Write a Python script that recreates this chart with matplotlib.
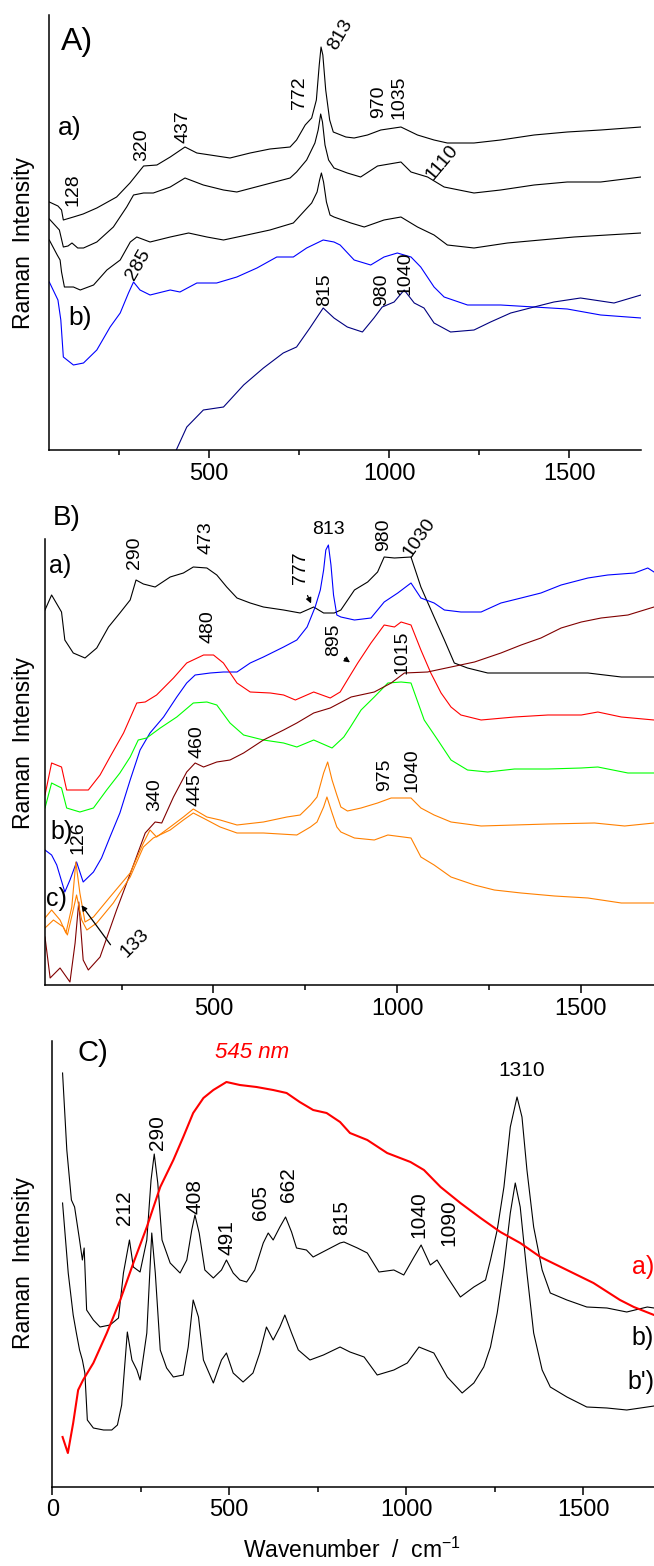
import numpy as np
import matplotlib.pyplot as plt

plt.rcParams['font.family'] = ['Liberation Sans', 'DejaVu Sans']
plt.rcParams['mathtext.fontset'] = 'custom'
plt.rcParams['mathtext.rm'] = 'Liberation Sans'

# ---------------- panel A ----------------
a1_w = [56, 80, 90, 95, 123, 150, 188, 243, 280, 318, 355, 392, 433, 466, 503, 558, 614, 669, 725, 743, 767, 785,
        798, 806, 811, 816, 824, 835, 845, 880, 903, 940, 977, 1033, 1079, 1125, 1162, 1236, 1310, 1403, 1495, 1588, 1700]
a1_i = [248, 244, 240, 230, 233, 236, 242, 253, 267, 284, 285, 293, 303, 297, 295, 292, 297, 301, 303, 310, 325, 332,
        350, 385, 403, 395, 360, 330, 318, 313, 312, 315, 320, 323, 315, 310, 307, 307, 310, 315, 318, 320, 323]

a2_w = [56, 84, 95, 108, 119, 135, 151, 188, 234, 271, 290, 318, 345, 392, 433, 484, 540, 577, 651, 725, 743, 771,
        794, 803, 810, 815, 822, 832, 847, 884, 921, 968, 1033, 1061, 1107, 1153, 1236, 1310, 1403, 1495, 1588, 1700]
a2_i = [231, 220, 203, 204, 207, 202, 202, 208, 223, 243, 255, 257, 257, 263, 272, 265, 260, 258, 265, 272, 278, 290,
        307, 320, 336, 328, 305, 290, 282, 277, 273, 284, 288, 278, 273, 263, 257, 260, 265, 268, 268, 273]

a3_w = [56, 78, 86, 90, 98, 123, 142, 179, 216, 253, 281, 299, 336, 392, 443, 494, 540, 605, 669, 734, 762, 785,
        800, 807, 812, 818, 826, 836, 847, 894, 931, 986, 1033, 1079, 1125, 1162, 1236, 1329, 1421, 1514, 1606, 1700]
a3_i = [210, 195, 190, 178, 163, 163, 160, 165, 180, 190, 208, 213, 208, 213, 217, 213, 210, 215, 220, 227, 238, 247,
        258, 270, 277, 268, 248, 235, 233, 227, 223, 230, 233, 223, 215, 205, 202, 207, 210, 213, 215, 217]

ab_w = [56, 80, 88, 95, 123, 151, 188, 225, 253, 276, 290, 308, 336, 392, 419, 466, 521, 577, 633, 688, 734, 771,
        817, 847, 864, 903, 949, 986, 1023, 1061, 1088, 1125, 1153, 1218, 1310, 1403, 1495, 1588, 1700]
ab_i = [168, 150, 130, 93, 85, 87, 100, 123, 137, 157, 168, 160, 155, 160, 158, 167, 167, 173, 182, 193, 193, 202,
        210, 208, 205, 190, 185, 193, 197, 193, 183, 163, 153, 145, 145, 143, 141, 135, 132]

an_w = [405, 438, 484, 540, 596, 651, 706, 743, 780, 817, 847, 884, 926, 958, 981, 1014, 1042, 1070, 1097, 1125,
        1171, 1236, 1282, 1338, 1403, 1458, 1532, 1625, 1700]
an_i = [-3, 23, 40, 43, 65, 82, 97, 103, 122, 142, 132, 123, 118, 132, 143, 148, 160, 147, 142, 127,
        118, 120, 128, 137, 143, 148, 152, 147, 155]

# ---------------- panel B ----------------
ba_w = [41, 59, 86, 95, 118, 150, 182, 214, 245, 273, 289, 309, 341, 382, 418, 445, 482, 509, 536, 564, 600, 636,
        691, 736, 773, 800, 829, 847, 884, 920, 947, 965, 993, 1038, 1065, 1101, 1129, 1156, 1192, 1247, 1338, 1429,
        1520, 1611, 1700]
ba_i = [375, 390, 373, 345, 332, 327, 337, 358, 372, 385, 405, 401, 398, 408, 412, 418, 417, 410, 398, 387, 382, 378,
        375, 372, 378, 372, 372, 375, 395, 403, 413, 428, 427, 428, 398, 368, 345, 322, 317, 312, 312, 312,
        312, 308, 308]

bb_w = [41, 59, 73, 95, 109, 127, 145, 173, 195, 218, 245, 273, 300, 327, 364, 400, 427, 450, 491, 527, 564, 600,
        636, 691, 727, 755, 777, 791, 800, 806, 813, 820, 827, 836, 847, 884, 929, 965, 1002, 1038, 1065, 1101, 1129,
        1174, 1229, 1283, 1338, 1392, 1447, 1520, 1574, 1647, 1683, 1700]
bb_i = [135, 130, 120, 93, 105, 123, 103, 113, 127, 148, 172, 205, 235, 252, 268, 288, 302, 310, 312, 313, 313, 322,
        328, 338, 345, 358, 378, 395, 415, 435, 440, 420, 390, 370, 368, 365, 367, 383, 392, 402, 387, 382, 375,
        373, 373, 382, 387, 392, 400, 407, 410, 412, 417, 413]

br_w = [41, 59, 86, 100, 127, 159, 191, 218, 255, 291, 314, 345, 391, 427, 473, 500, 527, 564, 600, 655, 691, 723,
        773, 818, 845, 868, 893, 929, 965, 993, 1011, 1038, 1065, 1092, 1120, 1147, 1174, 1229, 1320, 1411, 1502,
        1547, 1611, 1700]
br_i = [190, 222, 218, 195, 195, 195, 210, 228, 252, 282, 283, 290, 307, 322, 330, 330, 322, 302, 293, 292, 290, 285,
        293, 287, 293, 307, 322, 342, 360, 358, 363, 360, 335, 312, 292, 278, 270, 265, 268, 270, 270,
        273, 268, 265]

bg_w = [41, 59, 86, 100, 136, 173, 209, 245, 273, 295, 318, 355, 400, 445, 482, 509, 545, 582, 636, 691, 727, 773,
        823, 855, 873, 902, 938, 975, 1011, 1038, 1074, 1111, 1147, 1192, 1247, 1320, 1411, 1502, 1547, 1629, 1700]
bg_i = [177, 202, 197, 177, 173, 177, 195, 212, 228, 245, 247, 257, 268, 282, 283, 280, 262, 250, 245, 242, 238, 245,
        237, 248, 258, 275, 288, 302, 303, 302, 265, 245, 225, 215, 213, 216, 216, 217, 218, 212, 212]

bm_w = [41, 55, 82, 109, 123, 133, 145, 159, 191, 236, 282, 314, 341, 359, 391, 427, 450, 473, 509, 545, 582, 636,
        691, 727, 773, 818, 875, 938, 984, 1020, 1083, 1147, 1211, 1283, 1338, 1392, 1447, 1502, 1556, 1629, 1700]
bm_i = [48, 7, 17, 3, 42, 83, 25, 15, 28, 75, 120, 152, 163, 162, 188, 213, 222, 218, 223, 225, 232, 245,
        255, 262, 272, 277, 288, 293, 302, 312, 313, 318, 323, 332, 340, 347, 357, 363, 367, 370, 378]

bo1_w = [41, 59, 82, 98, 114, 125, 136, 150, 173, 218, 273, 309, 327, 345, 382, 418, 445, 482, 518, 564, 636, 700,
         736, 764, 782, 800, 811, 823, 836, 847, 865, 902, 947, 984, 1038, 1065, 1101, 1147, 1229, 1320, 1411, 1538,
         1620, 1700]
bo1_i = [67, 75, 65, 52, 78, 123, 92, 63, 68, 88, 112, 142, 155, 148, 158, 168, 176, 168, 165, 160, 163, 168,
         170, 180, 188, 212, 223, 205, 190, 178, 174, 177, 182, 187, 187, 177, 170, 163, 159, 160, 161, 162,
         159, 162]

bo2_w = [41, 64, 91, 102, 116, 127, 141, 155, 182, 227, 273, 309, 336, 382, 418, 445, 482, 518, 564, 636, 727, 764,
         782, 800, 809, 823, 836, 847, 884, 938, 975, 1038, 1065, 1101, 1147, 1211, 1265, 1338, 1429, 1520, 1611, 1700]
bo2_i = [57, 65, 58, 50, 72, 90, 65, 55, 62, 82, 108, 138, 147, 155, 165, 172, 165, 158, 152, 152, 150, 158,
         163, 178, 188, 172, 158, 153, 147, 145, 150, 147, 128, 120, 108, 100, 95, 92, 89, 87, 82, 82]

# ---------------- panel C ----------------
cb_w = [29, 41, 54, 63, 77, 85, 90, 97, 116, 135, 163, 187, 201, 218, 229, 248, 267, 279, 288, 298, 310, 333, 361,
        380, 394, 403, 415, 431, 455, 478, 492, 511, 530, 549, 572, 596, 610, 624, 643, 659, 676, 690, 718, 737, 775,
        813, 824, 862, 890, 923, 965, 993, 1022, 1042, 1068, 1087, 1116, 1153, 1191, 1224, 1238, 1257, 1276, 1294,
        1313, 1327, 1341, 1360, 1384, 1407, 1454, 1510, 1567, 1623, 1681, 1700]
cb_i = [414, 337, 287, 280, 247, 227, 239, 177, 167, 160, 162, 169, 214, 247, 220, 215, 247, 307, 333, 304, 247, 224,
        214, 227, 257, 272, 254, 217, 209, 217, 227, 214, 207, 205, 217, 244, 254, 247, 260, 270, 255, 239, 237, 230,
        237, 244, 245, 239, 234, 215, 217, 212, 230, 242, 222, 227, 210, 190, 200, 207, 227, 257, 300, 360, 390, 370,
        317, 260, 217, 194, 187, 180, 179, 175, 180, 179]

cb2_w = [29, 45, 59, 68, 77, 85, 92, 99, 116, 145, 168, 184, 196, 212, 225, 239, 248, 267, 281, 291, 305, 323, 342,
         370, 384, 398, 413, 427, 455, 478, 492, 511, 539, 567, 586, 605, 624, 643, 657, 676, 695, 728, 766, 813,
         841, 881, 918, 965, 1003, 1036, 1078, 1116, 1158, 1191, 1219, 1238, 1257, 1276, 1294, 1308, 1322, 1341,
         1360, 1384, 1407, 1454, 1510, 1567, 1623, 1681, 1700]
cb2_i = [284, 214, 172, 154, 137, 127, 114, 67, 59, 57, 57, 62, 82, 155, 127, 117, 107, 154, 254, 214, 137, 119, 110,
         112, 140, 187, 170, 127, 104, 127, 134, 114, 105, 114, 134, 160, 147, 160, 172, 154, 137, 127, 132, 140,
         135, 130, 112, 117, 124, 140, 134, 110, 94, 104, 120, 140, 174, 220, 274, 304, 280, 214,
         154, 117, 100, 90, 80, 79, 77, 80, 81]

cr_w = [29, 44, 59, 73, 87, 116, 154, 192, 229, 267, 305, 342, 370, 398, 427, 455, 492, 530, 577, 624, 662, 699,
        737, 775, 813, 841, 890, 946, 1012, 1050, 1097, 1153, 1210, 1266, 1322, 1379, 1454, 1529, 1604, 1643, 1700]
cr_i = [50, 34, 64, 97, 107, 124, 154, 187, 224, 260, 300, 327, 350, 374, 389, 397, 405, 402, 400, 397, 394, 385,
        377, 374, 365, 354, 347, 334, 325, 317, 300, 284, 269, 255, 244, 230, 217, 204, 187, 180, 172]

# peak labels: (text, wavenumber, intensity, rotation)
labels_a = [("813", 864, 415, 60), ("772", 750, 357, 90), ("970", 972, 348, 90), ("1035", 1028, 353, 90),
            ("437", 428, 323, 90), ("320", 314, 305, 90), ("128", 122, 260, 90), ("1110", 1147, 287, 50),
            ("285", 303, 185, 60), ("815", 822, 160, 90), ("980", 978, 160, 90), ("1040", 1044, 177, 90)]
labels_b = [("290", 286, 432, 90), ("473", 480, 447, 90), ("813", 813, 455, 0), ("777", 736, 417, 90),
            ("980", 963, 450, 90), ("1030", 1061, 447, 55), ("480", 485, 358, 90), ("895", 826, 345, 90),
            ("1015", 1014, 333, 90), ("460", 455, 243, 90), ("445", 450, 195, 90), ("340", 341, 190, 90),
            ("975", 965, 210, 90), ("1040", 1042, 215, 90), ("126", 130, 147, 90), ("133", 286, 42, 45)]
labels_c = [("212", 205, 279, 90), ("290", 296, 354, 90), ("408", 403, 290, 90), ("491", 494, 249, 90),
            ("605", 587, 284, 90), ("662", 666, 302, 90), ("815", 818, 269, 90), ("1040", 1036, 272, 90),
            ("1090", 1121, 264, 90), ("1310", 1327, 417, 0)]

W, H = 654, 1566
fig = plt.figure(figsize=(W / 100, H / 100), dpi=100)


def box(left, top, right, bottom):
	return [left / W, 1 - bottom / H, (right - left) / W, (bottom - top) / H]


def style_axis(ax, xmin, ymax, major):
	ax.set_xlim(xmin, 1700)
	ax.set_ylim(0, ymax)
	for s in ["top", "right"]:
		ax.spines[s].set_visible(False)
	for s in ["left", "bottom"]:
		ax.spines[s].set_linewidth(1.1)
	ax.set_yticks([])
	ax.set_xticks(major)
	ax.set_xticks([250, 750, 1250], minor=True)
	ax.tick_params(axis="x", which="major", direction="out", length=6, width=1.1, labelsize=17, pad=3)
	ax.tick_params(axis="x", which="minor", direction="out", length=3.5, width=1.1)


def put_labels(ax, labels, size):
	for txt, w, i, rot in labels:
		ax.text(w, i, txt, rotation=rot, fontsize=size, ha="center", va="center", rotation_mode="anchor")


# panel A
axA = fig.add_axes(box(49.3, 15, 641, 450))
style_axis(axA, 56, 435, [500, 1000, 1500])
axA.plot(a1_w, a1_i, color="black", lw=0.8)
axA.plot(a2_w, a2_i, color="black", lw=0.8)
axA.plot(a3_w, a3_i, color="black", lw=0.8)
axA.plot(ab_w, ab_i, color="#0000ff", lw=0.8)
axA.plot(an_w, an_i, color="#000080", lw=0.8)
put_labels(axA, labels_a, 14)
axA.text(133, 408, "A)", fontsize=23, ha="center", va="center")
axA.text(114, 322, "a)", fontsize=19, ha="center", va="center")
axA.text(142, 132, "b)", fontsize=19, ha="center", va="center")

# panel B
axB = fig.add_axes(box(45, 539, 654, 985))
style_axis(axB, 41, 446, [500, 1000, 1500])
axB.plot(ba_w, ba_i, color="black", lw=0.8)
axB.plot(bb_w, bb_i, color="#0000ff", lw=0.8)
axB.plot(br_w, br_i, color="#ff0000", lw=0.8)
axB.plot(bg_w, bg_i, color="#00ff00", lw=0.8)
axB.plot(bm_w, bm_i, color="#800000", lw=0.8)
axB.plot(bo1_w, bo1_i, color="#ff8000", lw=0.8)
axB.plot(bo2_w, bo2_i, color="#ff8000", lw=0.8)
put_labels(axB, labels_b, 14)
axB.text(101, 467, "B)", fontsize=20, ha="center", va="center", clip_on=False)
axB.text(82, 419, "a)", fontsize=18, ha="center", va="center")
axB.text(85, 153, "b)", fontsize=18, ha="center", va="center")
axB.text(71, 86, "c)", fontsize=18, ha="center", va="center")
arrow = dict(arrowstyle="-|>", color="black", lw=0.9, mutation_scale=8)
axB.annotate("", xy=(769, 379), xytext=(753, 392), arrowprops=arrow)
axB.annotate("", xy=(878, 321), xytext=(851, 328), arrowprops=arrow)
axB.annotate("", xy=(136, 82), xytext=(224, 38), arrowprops=arrow)

# panel C
axC = fig.add_axes(box(52.3, 1041, 654, 1487))
style_axis(axC, 0, 446, [0, 500, 1000, 1500])
axC.plot(cb_w, cb_i, color="black", lw=0.8)
axC.plot(cb2_w, cb2_i, color="black", lw=0.8)
axC.plot(cr_w, cr_i, color="#ff0000", lw=1.5)
put_labels(axC, labels_c, 15)
axC.text(115, 434, "C)", fontsize=21, ha="center", va="center")
axC.text(564, 434, "545 nm", fontsize=16, color="#ff0000", style="italic", ha="center", va="center")
axC.text(1700, 220, "a)", fontsize=18, color="#ff0000", ha="right", va="center", clip_on=False)
axC.text(1700, 149, "b)", fontsize=18, ha="right", va="center", clip_on=False)
axC.text(1700, 105, "b')", fontsize=18, ha="right", va="center", clip_on=False)

for yc in [243, 743, 1263]:
	fig.text(24 / W, 1 - yc / H, "Raman  Intensity", rotation=90, fontsize=16.5, ha="center", va="center")
fig.text(352 / W, 1 - 1550 / H, r"Wavenumber  /  cm$^{\mathregular{-1}}$", fontsize=16.5, ha="center", va="center")

fig.savefig("out.png", dpi=100)
